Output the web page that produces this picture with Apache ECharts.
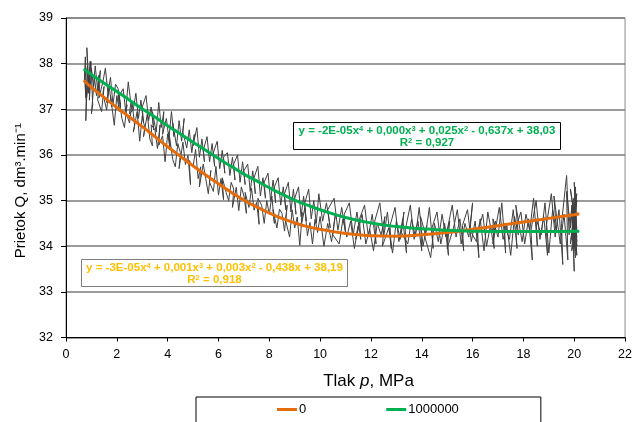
<!DOCTYPE html>
<html><head><meta charset="utf-8">
<script src="https://cdn.jsdelivr.net/npm/echarts@6/dist/echarts.min.js"></script>
<style>html,body{margin:0;padding:0;background:#fff}#c{width:635px;height:422px}</style>
</head><body><div id="c"></div>
<script>
// ---- data ----
const xRange = [0, 22, 2];
const yRange = [32, 39, 1];
const seriesNames = ['0', '1000000'];
const xTitle = 'Tlak {i|p}, MPa';
const yTitle = 'Prietok Q, dm³.min⁻¹';
const eq0 = ['y = -3E-05x{s|4} + 0,001x{s|3} + 0,003x{s|2} - 0,438x + 38,19', 'R{s|2} = 0,918'];
const eq1 = ['y = -2E-05x{s|4} + 0,000x{s|3} + 0,025x{s|2} - 0,637x + 38,03', 'R{s|2} = 0,927'];

const measured0 = [
[0.72,37.90],[0.78,37.25],[0.75,37.70],[0.85,37.95],[0.80,37.20],[0.92,37.80],[0.88,37.35],[0.98,38.05],[1.05,37.10],[1.00,36.90],
[1.12,37.70],[1.20,37.30],[1.30,37.75],[1.25,37.20],[1.40,36.95],[1.50,37.50],[1.45,37.35],[1.60,36.98],[1.70,37.50],[1.80,37.05],
[1.75,37.30],[1.90,36.65],[2.00,37.30],[2.10,36.95],[2.05,37.40],[2.20,36.80],[2.30,36.60],[2.40,37.10],[2.35,36.95],[2.50,36.70],
[2.60,37.15],[2.70,36.65],[2.65,36.50],[2.80,36.95],[2.90,36.30],[3.00,36.85],[3.10,36.60],[3.05,36.40],[3.20,36.90],[3.30,36.35],
[3.40,36.20],[3.35,36.66],[3.50,36.55],[3.60,36.14],[3.70,36.66],[3.65,36.21],[3.80,36.42],[3.90,35.85],[4.00,36.46],[4.10,36.12],
[4.05,36.50],[4.20,35.90],[4.30,35.74],[4.40,36.25],[4.50,36.05],[4.45,35.70],[4.60,36.28],[4.70,35.79],[4.80,35.99],[4.90,35.35],
[4.85,35.88],[5.00,35.74],[5.10,36.12],[5.20,35.48],[5.30,35.74],[5.25,35.30],[5.40,35.80],[5.50,35.48],[5.60,35.15],[5.70,35.66],
[5.65,35.40],[5.80,35.20],[5.90,35.75],[6.00,35.12],[6.10,35.48],[6.20,35.02],[6.15,35.50],[6.30,35.18],[6.40,35.00],[6.50,35.40],
[6.60,35.25],[6.55,34.85],[6.70,35.29],[6.80,34.78],[6.90,35.30],[7.00,35.10],[7.10,34.72],[7.05,35.18],[7.20,34.85],[7.30,35.27],
[7.40,34.79],[7.50,34.96],[7.60,34.48],[7.55,35.05],[7.70,34.90],[7.80,34.50],[7.90,35.00],[8.00,34.70],[8.10,35.10],[8.20,34.50],
[8.15,34.80],[8.30,34.40],[8.40,34.81],[8.50,34.72],[8.60,34.33],[8.70,34.90],[8.65,34.55],[8.80,34.20],[8.90,34.80],[9.00,34.40],
[9.10,34.64],[9.20,34.02],[9.30,34.74],[9.25,34.44],[9.40,34.84],[9.50,34.23],[9.60,34.52],[9.70,34.05],[9.80,34.59],[9.90,34.30],
[10.0,34.65],[10.15,34.00],[10.3,34.50],[10.45,34.10],[10.6,34.70],[10.5,34.25],[10.75,34.05],[10.9,34.60],[11.05,34.20],[11.2,34.55],
[11.35,33.95],[11.5,34.45],[11.4,34.15],[11.65,34.70],[11.8,34.05],[11.95,34.38],[12.1,33.90],[12.25,34.50],[12.4,34.25],[12.55,34.65],
[12.45,34.00],[12.7,34.40],[12.85,33.85],[13.0,34.55],[13.15,34.15],[13.3,34.75],[13.2,34.30],[13.45,34.05],[13.6,34.60],[13.75,34.20],
[13.9,34.85],[14.05,34.00],[14.2,34.45],[14.1,34.25],[14.35,33.75],[14.5,34.50],[14.65,34.10],[14.8,34.70],[14.95,34.20],[15.1,34.55],
[15.0,33.95],[15.25,34.40],[15.4,34.80],[15.55,34.05],[15.7,34.50],[15.85,34.20],[16.0,34.95],[15.9,34.35],[16.15,34.10],[16.3,34.60],
[16.45,33.90],[16.6,34.75],[16.75,34.30],[16.9,34.55],[16.8,34.05],[17.05,34.85],[17.2,34.15],[17.35,34.45],[17.5,33.80],[17.65,34.65],
[17.8,34.25],[17.7,34.90],[17.95,34.10],[18.1,34.70],[18.25,34.35],[18.4,35.05],[18.55,34.00],[18.5,34.60],[18.7,34.25],[18.85,34.95],
[19.0,33.85],[19.15,34.80],[19.3,34.30],[19.2,35.10],[19.45,34.05],[19.6,34.70],[19.75,33.70],[19.7,35.20],[19.85,34.40],[19.95,34.95],
[20.05,33.90],[19.9,34.75],[20.1,34.30],[20.0,35.40],[20.1,34.10],[19.95,34.60],[20.05,34.85],[19.9,34.15],[20.1,35.00],[19.95,33.95],
[20.05,34.55],[19.85,35.25],[20.1,34.20],[19.9,34.90],[20.05,33.75],[20.0,34.45]
];

const measured1 = [
[0.72,37.60],[0.76,38.15],[0.80,37.40],[0.78,36.75],[0.85,37.85],[0.82,38.35],[0.90,37.55],[0.95,38.05],[0.92,37.20],[1.00,37.90],
[1.08,37.50],[1.15,37.95],[1.25,37.40],[1.35,37.85],[1.30,37.25],[1.45,37.60],[1.55,37.90],[1.65,37.35],[1.60,37.15],[1.75,37.70],
[1.85,37.10],[1.95,37.55],[2.05,37.45],[2.15,37.05],[2.10,37.30],[2.25,37.45],[2.35,36.95],[2.45,37.60],[2.55,37.15],[2.50,36.90],
[2.65,37.00],[2.75,37.35],[2.85,36.80],[2.95,37.20],[3.05,36.70],[3.00,37.05],[3.15,37.30],[3.25,36.75],[3.35,37.05],[3.45,36.55],
[3.40,36.95],[3.55,36.50],[3.65,37.15],[3.75,36.60],[3.85,36.95],[3.80,36.45],[3.95,36.80],[4.05,36.35],[4.15,36.95],[4.25,36.40],
[4.20,36.70],[4.35,36.20],[4.45,36.75],[4.55,36.30],[4.65,36.80],[4.60,36.50],[4.75,36.15],[4.85,36.55],[4.95,36.05],[5.05,36.45],
[5.00,36.20],[5.15,36.60],[5.25,35.95],[5.35,36.35],[5.45,35.85],[5.40,36.10],[5.55,36.40],[5.65,35.85],[5.75,36.25],[5.85,35.75],
[5.80,36.05],[5.95,36.30],[6.05,35.70],[6.15,36.10],[6.25,35.60],[6.20,35.95],[6.35,36.05],[6.45,35.55],[6.55,35.95],[6.65,35.45],
[6.60,35.80],[6.75,36.00],[6.85,35.40],[6.95,35.85],[7.05,35.35],[7.00,35.65],[7.15,35.80],[7.25,35.20],[7.35,35.65],[7.45,35.15],
[7.40,35.50],[7.55,35.75],[7.65,35.10],[7.75,35.50],[7.85,35.05],[7.80,35.40],[7.95,35.60],[8.05,35.00],[8.15,35.45],[8.25,34.95],
[8.20,35.30],[8.35,35.50],[8.45,34.90],[8.55,35.30],[8.65,34.80],[8.60,35.15],[8.75,35.40],[8.85,34.75],[8.95,35.25],[9.05,34.70],
[9.00,35.05],[9.15,35.30],[9.25,34.65],[9.35,35.10],[9.45,34.55],[9.40,34.95],[9.55,35.25],[9.65,34.60],[9.75,35.00],[9.85,34.50],
[9.95,35.15],[10.1,34.55],[10.25,34.95],[10.4,34.40],[10.3,34.80],[10.55,35.05],[10.7,34.35],[10.85,34.85],[11.0,34.30],[10.95,34.70],
[11.15,34.95],[11.3,34.25],[11.45,34.75],[11.6,34.15],[11.55,34.60],[11.75,34.90],[11.9,34.20],[12.05,34.70],[12.2,34.05],[12.15,34.55],
[12.35,34.95],[12.5,34.20],[12.65,34.75],[12.8,33.95],[12.75,34.45],[12.95,34.85],[13.1,34.10],[13.25,34.60],[13.4,33.85],[13.35,34.35],
[13.55,34.90],[13.7,34.15],[13.85,34.55],[14.0,33.90],[13.95,34.65],[14.15,34.25],[14.3,34.85],[14.45,33.95],[14.4,34.40],[14.6,34.75],
[14.75,34.05],[14.9,34.50],[15.05,33.80],[15.0,34.35],[15.2,34.90],[15.35,34.20],[15.5,34.60],[15.65,33.90],[15.6,34.45],[15.8,34.80],
[15.95,34.10],[16.1,34.55],[16.25,33.75],[16.2,34.30],[16.4,34.70],[16.55,34.00],[16.7,34.45],[16.85,33.95],[16.8,34.60],[17.0,34.20],
[17.15,34.95],[17.3,33.85],[17.25,34.50],[17.45,34.15],[17.6,34.80],[17.75,33.95],[17.7,34.40],[17.9,34.75],[18.05,34.05],[18.2,34.60],
[18.35,33.70],[18.3,34.35],[18.5,35.00],[18.65,34.15],[18.8,34.65],[18.95,33.80],[18.9,34.45],[19.1,35.15],[19.25,34.20],[19.4,34.80],
[19.55,33.60],[19.5,34.50],[19.7,35.55],[19.8,34.25],[19.9,34.85],[20.0,33.45],[19.95,34.60],[20.05,35.30],[20.1,34.00],[20.0,34.70],
[20.1,33.80],[19.98,35.05],[20.1,34.40],[19.9,33.90],[20.05,34.95],[19.95,34.25],[20.1,35.15],[19.85,34.05],[20.0,34.80],[20.1,34.30]
];

const trendX  = [0.7,1,1.5,2,2.5,3,3.5,4,4.5,5,5.5,6,6.5,7,7.5,8,8.5,9,9.5,10,11,12,13,14,15,16,17,18,19,20,20.2];
const trend0Y = [37.63,37.48,37.26,37.04,36.83,36.62,36.40,36.18,35.97,35.76,35.56,35.37,35.18,35.01,34.86,34.73,34.61,34.51,34.43,34.37,34.28,34.23,34.22,34.25,34.30,34.37,34.45,34.53,34.61,34.69,34.71];
const trend1Y = [37.88,37.76,37.57,37.39,37.20,37.01,36.83,36.64,36.46,36.28,36.10,35.92,35.75,35.58,35.43,35.28,35.14,35.01,34.90,34.80,34.63,34.51,34.43,34.38,34.35,34.33,34.32,34.32,34.32,34.33,34.33];

// ---- chart ----
const FONT = '"Liberation Sans", Arial, sans-serif';
const ORANGE = '#E46C0A', GREEN = '#00B050', GRAY = '#404040';
const zip = (xs, ys) => xs.map((x, i) => [x, ys[i]]);

const chart = echarts.init(document.getElementById('c'), null, {renderer: 'canvas'});

function eqBox(x, y, w, h, lines, color, stroke) {
  const base = {fill: color, fontFamily: FONT, fontWeight: 'bold', fontSize: 11.5, lineHeight: 12};
  const rich = {s: {fill: color, fontFamily: FONT, fontWeight: 'bold', fontSize: 7.5, lineHeight: 12, verticalAlign: 'top'}};
  const txt = (t, ty) => ({type: 'text', x: w / 2, y: ty,
    style: Object.assign({text: t, align: 'center', verticalAlign: 'middle', rich: rich}, base)});
  return {
    type: 'group', left: x, top: y, z: 100,
    children: [
      {type: 'rect', shape: {x: 0, y: 0, width: w, height: h}, style: {fill: '#fff', stroke: stroke, lineWidth: 1}},
      txt(lines[0], 8), txt(lines[1], 20)
    ]
  };
}

chart.setOption({
  animation: false,
  backgroundColor: '#fff',
  textStyle: {fontFamily: FONT},
  grid: {left: 66, right: 6, top: 18, bottom: 84.5, show: true, borderColor: '#8a8a8a', borderWidth: 1},
  xAxis: {
    type: 'value', min: xRange[0], max: xRange[1], interval: xRange[2],
    axisLine: {show: true, onZero: false, lineStyle: {color: '#000', width: 1}},
    axisTick: {show: true, length: 4, lineStyle: {color: '#000'}},
    axisLabel: {margin: 11, fontSize: 12.5, color: '#000', fontFamily: FONT},
    splitLine: {show: false},
    name: xTitle, nameLocation: 'middle', nameGap: 35,
    nameTextStyle: {fontSize: 17, color: '#000', fontFamily: FONT, padding: [0, 0, 0, 46],
      rich: {i: {fontSize: 17, fontStyle: 'italic', color: '#000', fontFamily: FONT}}}
  },
  yAxis: {
    type: 'value', min: yRange[0], max: yRange[1], interval: yRange[2],
    axisLine: {show: true, lineStyle: {color: '#000', width: 1}},
    axisTick: {show: true, length: 5, lineStyle: {color: '#000'}},
    axisLabel: {margin: 13, fontSize: 12.5, color: '#000', fontFamily: FONT},
    splitLine: {show: true, lineStyle: {color: '#7a7a7a', width: 1.5}},
    name: yTitle, nameLocation: 'middle', nameGap: 37,
    nameTextStyle: {fontSize: 15, color: '#000', fontFamily: FONT, padding: [0, 26, 0, 0]}
  },
  legend: {
    data: [{name: seriesNames[0], icon: 'rect'}, {name: seriesNames[1], icon: 'rect'}],
    left: 196, top: 397, padding: [6, 82, 30, 81],
    borderColor: '#000', borderWidth: 1, backgroundColor: '#fff',
    itemWidth: 20, itemHeight: 3, itemGap: 80,
    textStyle: {fontSize: 13, color: '#000', fontFamily: FONT, padding: [0, 0, 0, -3]}
  },
  graphic: [
    eqBox(293, 122, 267, 27, eq1, GREEN, '#000'),
    eqBox(81, 259, 266, 27, eq0, '#FFC000', '#7f7f7f')
  ],
  series: [
    {name: 'm0', type: 'line', data: measured0, showSymbol: false, silent: true, z: 2,
     lineStyle: {color: GRAY, width: 1}, itemStyle: {color: GRAY}},
    {name: 'm1', type: 'line', data: measured1, showSymbol: false, silent: true, z: 2,
     lineStyle: {color: GRAY, width: 1}, itemStyle: {color: GRAY}},
    {name: seriesNames[0], type: 'line', data: zip(trendX, trend0Y), smooth: true, showSymbol: false, z: 5,
     lineStyle: {color: ORANGE, width: 3}, itemStyle: {color: ORANGE}},
    {name: seriesNames[1], type: 'line', data: zip(trendX, trend1Y), smooth: true, showSymbol: false, z: 5,
     lineStyle: {color: GREEN, width: 3}, itemStyle: {color: GREEN}}
  ]
});
</script>
</body></html>
